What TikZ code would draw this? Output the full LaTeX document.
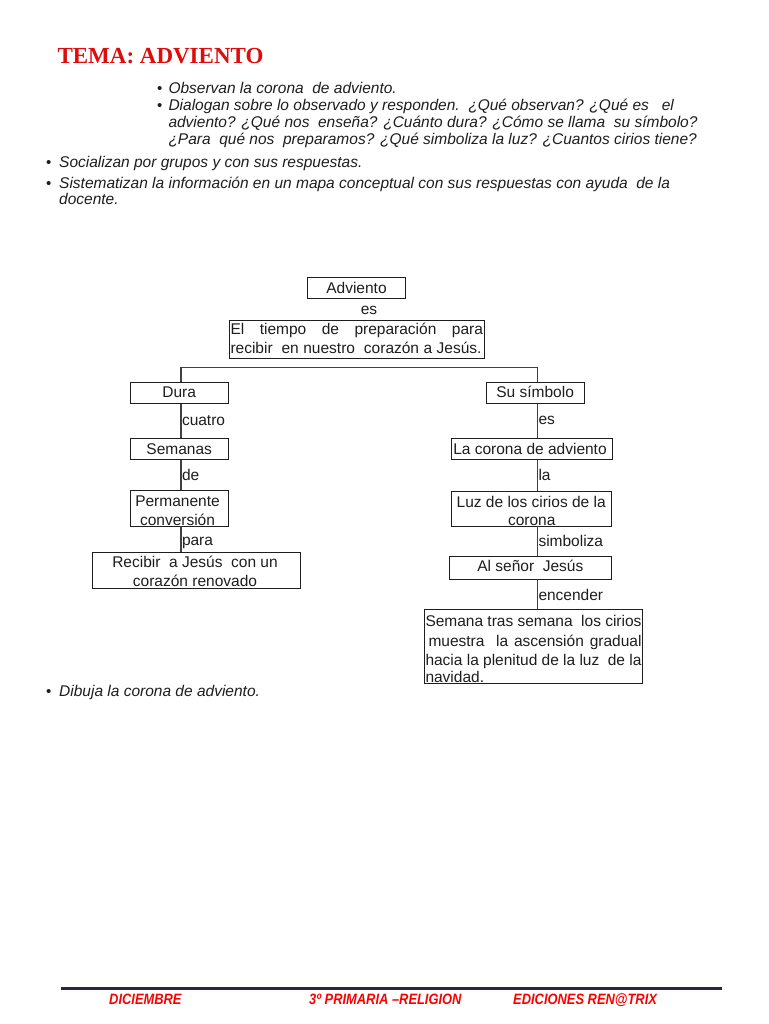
\documentclass[tikz,border=0pt]{standalone}
\usepackage{fontspec}
\setmainfont{Liberation Sans}
\newfontfamily\titlefont{Liberation Serif}
\newfontfamily\footfont[FakeStretch=0.86]{Liberation Sans}
\definecolor{titlered}{RGB}{222,12,12}
\definecolor{footred}{RGB}{250,0,0}
\definecolor{navyline}{RGB}{42,36,72}
\definecolor{ink}{RGB}{30,30,30}
\begin{document}
\begin{tikzpicture}[x=1pt,y=-1pt,
  body/.style={anchor=base west,inner sep=0pt,font=\fontsize{15.5}{17}\selectfont\itshape,text=ink},
  bul/.style={anchor=base west,inner sep=0pt,font=\fontsize{15}{17}\selectfont,text=ink},
  cbox/.style={draw=ink,line width=0.9pt,inner sep=0pt,fill=none},
  btxt/.style={anchor=base,inner sep=0pt,font=\fontsize{15.5}{19}\selectfont,text=ink},
  jtxt/.style={anchor=base west,inner sep=0pt,font=\fontsize{15.5}{19}\selectfont,text=ink},
  lbl/.style={anchor=base west,inner sep=0pt,font=\fontsize{15.5}{19}\selectfont,text=ink},
  conn/.style={draw=ink!85,line width=1.1pt},
  foot/.style={anchor=base west,inner sep=0pt,font=\footfont\bfseries\itshape\fontsize{15}{15}\selectfont,text=footred}
]
\useasboundingbox[fill=white] (0,0) rectangle (768,1024);

% title
\node[anchor=base west,inner sep=0pt,font=\titlefont\bfseries\fontsize{23}{23}\selectfont,text=titlered] (title) at (57.3,63.3) {TEMA: ADVIENTO};

% bullets
\node[bul] (d1) at (157,93.5) {•};
\node[body] (t1) at (168.3,93.5) {Observan la corona\ \ de adviento.};
\node[bul] (d2) at (157,111) {•};
\node[body] (t2a) at (168.3,111) {Dialogan sobre lo observado y responden.\ \ ¿Qué observan? ¿Qué es\ \ \ el};
\node[body] (t2b) at (168.3,128) {adviento? ¿Qué nos\ \ enseña? ¿Cuánto dura? ¿Cómo se llama\ \ su símbolo?};
\node[body] (t2c) at (168.3,145) {¿Para\ \ qué nos\ \ preparamos? ¿Qué simboliza la luz? ¿Cuantos cirios tiene?};
\node[bul] (d3) at (46,167.5) {•};
\node[body] (t3) at (59,167.5) {Socializan por grupos y con sus respuestas.};
\node[bul] (d4) at (46,188.5) {•};
\node[body] (t4a) at (59,188.5) {Sistematizan la información en un mapa conceptual con sus respuestas con ayuda\ \ de la};
\node[body] (t4b) at (59,204.5) {docente.};
\node[bul] (d5) at (46,696.5) {•};
\node[body] (t5) at (59,696.5) {Dibuja la corona de adviento.};

% boxes
\node[cbox,minimum width=98.4pt,minimum height=20.6pt] (adv) at (356.5,288) {};
\node[btxt] at (356.5,293) {Adviento};
\node[lbl,anchor=base] (es0) at (369,314) {es};

\node[cbox,minimum width=255pt,minimum height=38.3pt] (tiempo) at (356.5,339.15) {};
\node[jtxt] at (230.3,334.3) {\makebox[252.5pt][s]{El tiempo de preparación para}};
\node[jtxt] at (230.3,353.3) {\makebox[251pt][s]{recibir\ \ en nuestro\ \ corazón a Jesús.}};

\node[cbox,minimum width=98.3pt,minimum height=21.3pt] (dura) at (179.15,392.65) {};
\node[btxt] at (179.15,397.5) {Dura};
\node[cbox,minimum width=98.3pt,minimum height=21pt] (sem) at (179.15,448.8) {};
\node[btxt] at (179.15,454.3) {Semanas};
\node[cbox,minimum width=98.3pt,minimum height=35.3pt] (perm) at (179.15,508.35) {};
\node[btxt] at (177.5,506.7) {Permanente};
\node[btxt] at (177.5,525) {conversión};
\node[cbox,minimum width=207.7pt,minimum height=36pt] (rec) at (196.15,570.3) {};
\node[btxt] at (195,567) {Recibir\ \ a Jesús\ \ con un};
\node[btxt] at (195,586.7) {corazón renovado};

\node[cbox,minimum width=98.3pt,minimum height=21.3pt] (simb) at (535.15,392.65) {};
\node[btxt] at (535.15,397.5) {Su símbolo};
\node[cbox,minimum width=160.6pt,minimum height=21pt] (cor) at (532,448.8) {};
\node[btxt] at (530,454.3) {La corona de adviento};
\node[cbox,minimum width=160pt,minimum height=35pt] (luz) at (531.7,508.5) {};
\node[btxt] at (531.2,507.3) {Luz de los cirios de la};
\node[btxt] at (531.7,525) {corona};
\node[cbox,minimum width=162.7pt,minimum height=23pt] (sen) at (530.35,567.5) {};
\node[btxt] at (530.35,571.7) {Al señor\ \ Jesús};
\node[cbox,minimum width=218pt,minimum height=74pt] (sem2) at (533.3,646.3) {};
\node[jtxt] at (425.3,626) {\makebox[216pt][s]{Semana tras semana\ \ los cirios}};
\node[jtxt] at (425.3,646) {\makebox[216pt][s]{\kern3pt muestra\ \ la ascensión gradual}};
\node[jtxt] at (425.3,665) {\makebox[216pt][s]{hacia la plenitud de la luz\ \ de la}};
\node[jtxt] at (425.3,682.3) {navidad.};

% connectors
\coordinate (lx) at (181,0);
\coordinate (rx) at (537.5,0);
\coordinate (bar) at (0,367.7);
\draw[conn] (dura.north -| lx) -- (bar -| lx) -- (bar -| rx) -- (simb.north -| rx);
\draw[conn] (dura.south -| lx) -- (sem.north -| lx);
\draw[conn] (sem.south -| lx) -- (perm.north -| lx);
\draw[conn] (perm.south -| lx) -- (rec.north -| lx);
\draw[conn] (simb.south -| rx) -- (cor.north -| rx);
\draw[conn] (cor.south -| rx) -- (luz.north -| rx);
\draw[conn] (luz.south -| rx) -- (sen.north -| rx);
\draw[conn] (sen.south -| rx) -- (sem2.north -| rx);

% connector labels
\node[lbl] (l1) at (181.8,425) {cuatro};
\node[lbl] (l2) at (181.8,480.5) {de};
\node[lbl] (l3) at (181.8,545.7) {para};
\node[lbl] (r1) at (538.3,424) {es};
\node[lbl] (r2) at (538.3,480) {la};
\node[lbl] (r3) at (538.3,546) {simboliza};
\node[lbl] (r4) at (538.3,600) {encender};

% footer
\draw[draw=navyline,line width=3pt] (61,988) -- (722,988);
\node[foot] (f1) at (109,1004.5) {DICIEMBRE};
\node[foot] (f2) at (309,1004.5) {3º PRIMARIA –RELIGION};
\node[foot] (f3) at (513,1004.5) {EDICIONES REN@TRIX};
\end{tikzpicture}
\end{document}
